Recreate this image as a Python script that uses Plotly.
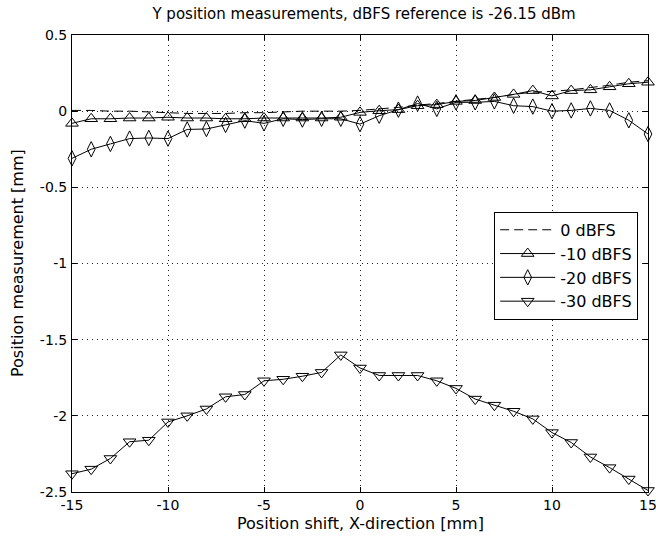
import plotly.graph_objects as go

x_shift = list(range(-15, 16))

y_0dbfs = [0.005, 0.005, 0.0, 0.0, -0.005, -0.01, -0.015, -0.015, -0.015, -0.01,
           -0.01, -0.005, 0.0, 0.0, 0.0, 0.005, 0.015, 0.025, 0.04, 0.05,
           0.065, 0.075, 0.09, 0.11, 0.125, 0.13, 0.14, 0.155, 0.17, 0.19, 0.2]
y_10dbfs = [-0.08, -0.05, -0.05, -0.045, -0.045, -0.04, -0.045, -0.045, -0.05, -0.05,
            -0.045, -0.045, -0.045, -0.045, -0.04, -0.008, 0.003, 0.01, 0.036, 0.043,
            0.064, 0.07, 0.09, 0.11, 0.135, 0.10, 0.135, 0.14, 0.16, 0.18, 0.19]
y_20dbfs = [-0.31, -0.25, -0.215, -0.18, -0.176, -0.18, -0.12, -0.117, -0.09, -0.062,
            -0.08, -0.05, -0.055, -0.05, -0.05, -0.085, -0.03, 0.01, 0.05, 0.015,
            0.058, 0.058, 0.064, 0.036, 0.03, 0.0, 0.005, 0.018, 0.005, -0.06, -0.15]
y_30dbfs = [-2.38, -2.35, -2.28, -2.17, -2.16, -2.04, -2.0, -1.955, -1.875, -1.86,
            -1.77, -1.76, -1.74, -1.715, -1.60, -1.686, -1.735, -1.735, -1.735, -1.77,
            -1.82, -1.89, -1.93, -1.97, -2.02, -2.11, -2.175, -2.27, -2.34, -2.415, -2.49]

x_ticks = [-15, -10, -5, 0, 5, 10, 15]
x_ticklabels = ["-15", "-10", "-5", "0", "5", "10", "15"]
y_ticks = [0.5, 0, -0.5, -1, -1.5, -2, -2.5]
y_ticklabels = ["0.5", "0", "-0.5", "-1", "-1.5", "-2", "-2.5"]

FONT = "DejaVu Sans, Verdana, sans-serif"
FS = 14

fig = go.Figure()
fig.add_trace(go.Scatter(x=x_shift, y=y_0dbfs, mode="lines", name="0 dBFS",
                         cliponaxis=False,
                         line=dict(color="black", width=1, dash="9px,5px")))
fig.add_trace(go.Scatter(x=x_shift, y=y_10dbfs, mode="lines+markers", name="-10 dBFS",
                         cliponaxis=False,
                         line=dict(color="black", width=1),
                         marker=dict(symbol="triangle-up-open", size=11,
                                     color="black", line=dict(width=1))))
fig.add_trace(go.Scatter(x=x_shift, y=y_20dbfs, mode="lines+markers", name="-20 dBFS",
                         cliponaxis=False,
                         line=dict(color="black", width=1),
                         marker=dict(symbol="diamond-tall-open", size=11,
                                     color="black", line=dict(width=1))))
fig.add_trace(go.Scatter(x=x_shift, y=y_30dbfs, mode="lines+markers", name="-30 dBFS",
                         cliponaxis=False,
                         line=dict(color="black", width=1),
                         marker=dict(symbol="triangle-down-open", size=11,
                                     color="black", line=dict(width=1))))

axis_common = dict(showline=True, mirror="allticks", linecolor="black", linewidth=1,
                   ticks="inside", ticklen=5, tickcolor="black", automargin=False,
                   showgrid=True, gridcolor="#222222", gridwidth=1, griddash="1px,4px",
                   zeroline=False, tickfont=dict(size=FS, color="black", family=FONT))

fig.update_xaxes(range=[-15, 15], tickvals=x_ticks, ticktext=x_ticklabels,
                 ticklabelstandoff=0, ticklabeloverflow="allow", **axis_common)
fig.update_yaxes(range=[-2.5, 0.5], tickvals=y_ticks, ticktext=y_ticklabels,
                 ticklabelstandoff=1, ticklabeloverflow="allow", **axis_common)

fig.update_layout(
    width=656, height=541,
    margin=dict(l=72, r=8, t=35, b=49, autoexpand=False),
    paper_bgcolor="white", plot_bgcolor="white",
    font=dict(family=FONT, size=FS, color="black"),
    title=dict(text="Y position measurements, dBFS reference is -26.15 dBm",
               x=0.555, xanchor="center", y=0.974, yanchor="middle",
               font=dict(size=15, color="black", family=FONT)),
    legend=dict(x=0.983, xanchor="right", y=0.613, yanchor="top",
                bgcolor="white", bordercolor="black", borderwidth=1,
                font=dict(size=16, color="black", family=FONT),
                itemwidth=55, tracegroupgap=0),
    showlegend=True,
    annotations=[
        dict(text="Position shift, X-direction [mm]", xref="paper", yref="paper",
             x=0.5, y=-(523 - 492) / 457, xanchor="center", yanchor="middle",
             showarrow=False, font=dict(size=16, color="black", family=FONT)),
        dict(text="Position measurement [mm]", xref="paper", yref="paper",
             x=-(72 - 17) / 576, y=(492 - 263) / 457, xanchor="center", yanchor="middle",
             textangle=-90, showarrow=False,
             font=dict(size=16, color="black", family=FONT)),
    ],
)

fig.write_html("out.html", config={"displayModeBar": False},
               post_script="document.body.style.margin='0px';document.body.style.overflow='hidden';")
